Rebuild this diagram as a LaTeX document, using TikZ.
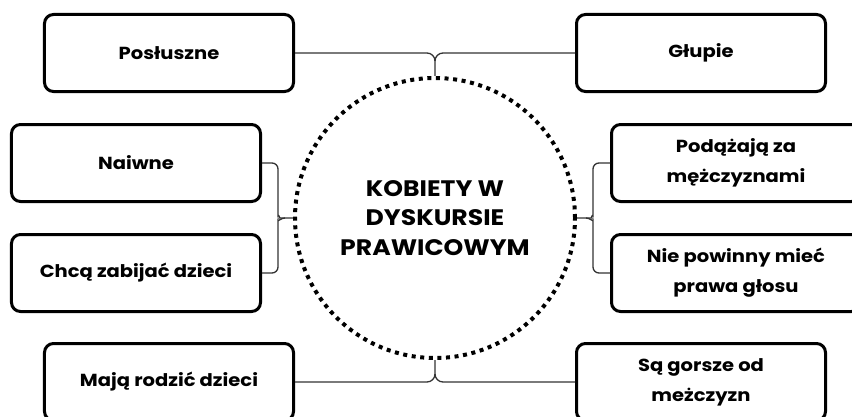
\documentclass[tikz,border=0pt]{standalone}
\usepackage{fontspec}
\setmainfont{Poppins}[FakeStretch=1.12]
\usetikzlibrary{calc}
\tikzset{
  trait/.style={draw=black, line width=3bp, rounded corners=9bp,
    minimum width=249bp, minimum height=77bp, inner sep=0pt, align=center,
    font=\fontsize{17.5}{30}\selectfont\bfseries},
  conn/.style={draw=black!80, line width=1.3bp},
}

\begin{document}
\begin{tikzpicture}[x=1bp,y=1bp]
  %%%%% START %%%%%
  \useasboundingbox (0,0) rectangle (852,416);
  \clip (0,0) rectangle (852,416);

  \node[circle, draw, line width=4bp, dash pattern=on 4bp off 4.6bp,
    minimum size=280bp, inner sep=0pt, align=center,
    font=\fontsize{22.5}{30}\selectfont\bfseries] (centre) at (435,198)
    {KOBIETY W\\DYSKURSIE\\PRAWICOWYM};

  \node[trait] (posl) at (169,363) {Posłuszne};
  \node[trait] (glup) at (701,363) {Głupie};
  \node[trait] (naiw) at (136,253) {Naiwne};
  \node[trait] (chca) at (136,143) {Chcą zabijać dzieci};
  \node[trait] (poda) at (736,253) {Podążają za\\mężczyznami};
  \node[trait] (niep) at (736,143) {Nie powinny mieć\\prawa głosu};
  \node[trait] (maja) at (169,34) {Mają rodzić dzieci};
  \node[trait] (gors) at (701,34) {Są gorsze od\\meżczyzn};

  \coordinate (topfork) at (centre.north |- posl.east);
  \coordinate (botfork) at (centre.south |- maja.east);
  \coordinate (lfork) at (278,198);
  \coordinate (rfork) at (593,198);

  % top and bottom
  \draw[conn] (posl.east) -- ([xshift=-8bp]topfork) to[out=0,in=90] ([yshift=-8bp]topfork) -- (centre.north);
  \draw[conn] (glup.west) -- ([xshift=8bp]topfork) to[out=180,in=90] ([yshift=-8bp]topfork);
  \draw[conn] (maja.east) -- ([xshift=-8bp]botfork) to[out=0,in=-90] ([yshift=8bp]botfork) -- (centre.south);
  \draw[conn] (gors.west) -- ([xshift=8bp]botfork) to[out=180,in=-90] ([yshift=8bp]botfork);

  % left and right
  \draw[conn, rounded corners=6bp] (naiw.east) -| ([yshift=8bp]lfork) to[out=-90,in=180] ([xshift=7bp]lfork) -- (centre.west);
  \draw[conn, rounded corners=6bp] (chca.east) -| ([yshift=-8bp]lfork) to[out=90,in=180] ([xshift=7bp]lfork);
  \draw[conn, rounded corners=6bp] (poda.west) -| ([yshift=8bp]rfork) to[out=-90,in=0] ([xshift=-7bp]rfork) -- (centre.east);
  \draw[conn, rounded corners=6bp] (niep.west) -| ([yshift=-8bp]rfork) to[out=90,in=0] ([xshift=-7bp]rfork);
  %%%%% END %%%%%
\end{tikzpicture}
\end{document}
